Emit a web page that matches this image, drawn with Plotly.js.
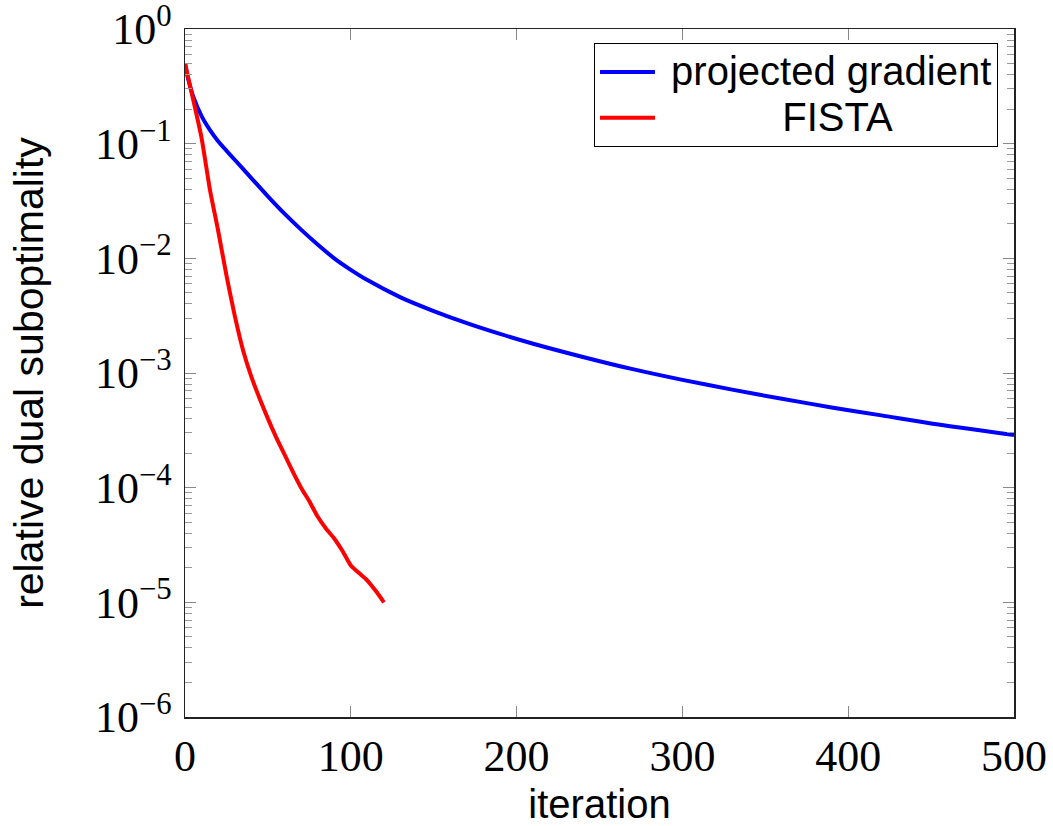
<!DOCTYPE html>
<html>
<head>
<meta charset="utf-8">
<script src="https://cdn.plot.ly/plotly-3.0.1.min.js"></script>
<style>html,body{margin:0;padding:0;background:#fff;}#chart{width:1053px;height:826px;}</style>
</head>
<body>
<div id="chart"></div>
<script>
// Projected gradient (blue)
const pgIter = [0, 2, 5, 10, 15, 20, 30, 40, 50, 60, 70, 80, 90, 100, 110, 130, 150, 170, 190, 210, 240, 270, 300, 330, 360, 390, 420, 450, 500];
const pgVal  = [0.501, 0.363, 0.257, 0.174, 0.132, 0.105, 0.0724, 0.0501, 0.0347, 0.0245, 0.0178, 0.0132, 0.0100, 0.00794, 0.00646, 0.00457, 0.00347, 0.00272, 0.00219, 0.00180, 0.00138, 0.00108, 8.71e-4, 7.16e-4, 5.96e-4, 5.01e-4, 4.27e-4, 3.63e-4, 2.88e-4];
// FISTA (red)
const fIter = [0, 5, 10, 15, 20, 25, 30, 35, 40, 45, 50, 55, 60, 65, 70, 75, 80, 85, 90, 95, 100, 105, 110, 115, 120];
const fVal  = [0.50, 0.24, 0.112, 0.040, 0.0174, 0.0071, 0.00316, 0.00158, 9.3e-4, 6.0e-4, 4.0e-4, 2.75e-4, 1.95e-4, 1.38e-4, 1.0e-4, 7.6e-5, 5.6e-5, 4.4e-5, 3.6e-5, 2.8e-5, 2.1e-5, 1.8e-5, 1.55e-5, 1.26e-5, 1.0e-5];

const seriesNames = ['projected gradient', 'FISTA'];
const xTicks = [0, 100, 200, 300, 400, 500];
const yExponents = [-6, -5, -4, -3, -2, -1, 0];

const yTickVals = yExponents.map(e => Math.pow(10, e));
const yTickText = yExponents.map(e => '10<sup>' + (e < 0 ? '\u2212' + (-e) : e) + '</sup>');
const minorVals = [];
yExponents.slice(0, -1).forEach(e => { for (let m = 2; m <= 9; m++) minorVals.push(m * Math.pow(10, e)); });

const legendLabel = (s, padCount) => '<span style="font-size:40px">' + '\u00a0'.repeat(padCount) + s + '</span>';
const traces = [
  {x: pgIter, y: pgVal, type: 'scatter', mode: 'lines', name: legendLabel(seriesNames[0], 1),
   line: {color: '#0000ff', width: 4, shape: 'spline', smoothing: 0.8}},
  {x: fIter, y: fVal, type: 'scatter', mode: 'lines', name: legendLabel(seriesNames[1], 11),
   line: {color: '#ff0000', width: 4, shape: 'spline', smoothing: 0.6}}
];

const serif = 'Liberation Serif, Times New Roman, serif';
const sans = 'Liberation Sans, Arial, sans-serif';

const layout = {
  width: 1053, height: 826,
  margin: {l: 185, r: 39, t: 29, b: 109},
  paper_bgcolor: '#fff', plot_bgcolor: '#fff',
  showlegend: true,
  legend: {
    x: 0.9807, y: 0.9797, xanchor: 'right', yanchor: 'top',
    bgcolor: '#fff', bordercolor: '#000', borderwidth: 1,
    font: {family: sans, size: 33, color: '#000'},
    itemwidth: 55,
    tracegroupgap: 0
  },
  xaxis: {
    range: [0, 500], tickmode: 'array', tickvals: xTicks, ticktext: xTicks.map(String),
    ticks: 'inside', ticklen: 11, tickwidth: 1, tickcolor: '#888',
    showline: true, linecolor: '#222', linewidth: 1.5, mirror: 'allticks',
    showgrid: false, zeroline: false,
    tickfont: {family: serif, size: 44, color: '#000'},
    ticklabeloverflow: 'allow',
    title: {text: 'iteration', font: {family: sans, size: 40, color: '#000'}, standoff: 15}
  },
  yaxis: {
    type: 'log', range: [-6, 0], tickmode: 'array', tickvals: yTickVals, ticktext: yTickText,
    ticks: 'inside', ticklen: 11, tickwidth: 1, tickcolor: '#888',
    minor: {tickmode: 'array', tickvals: minorVals, ticks: 'inside', ticklen: 7, tickwidth: 1, tickcolor: '#999', showgrid: false},
    showline: true, linecolor: '#222', linewidth: 1.5, mirror: 'allticks',
    showgrid: false, zeroline: false,
    tickfont: {family: serif, size: 44, color: '#000'},
    ticklabeloverflow: 'allow',
    ticklabelstandoff: 3,
    title: {text: 'relative dual suboptimality', font: {family: sans, size: 41, color: '#000'}, standoff: 38}
  }
};

Plotly.newPlot('chart', traces, layout, {staticPlot: true, displayModeBar: false});
</script>
</body>
</html>
